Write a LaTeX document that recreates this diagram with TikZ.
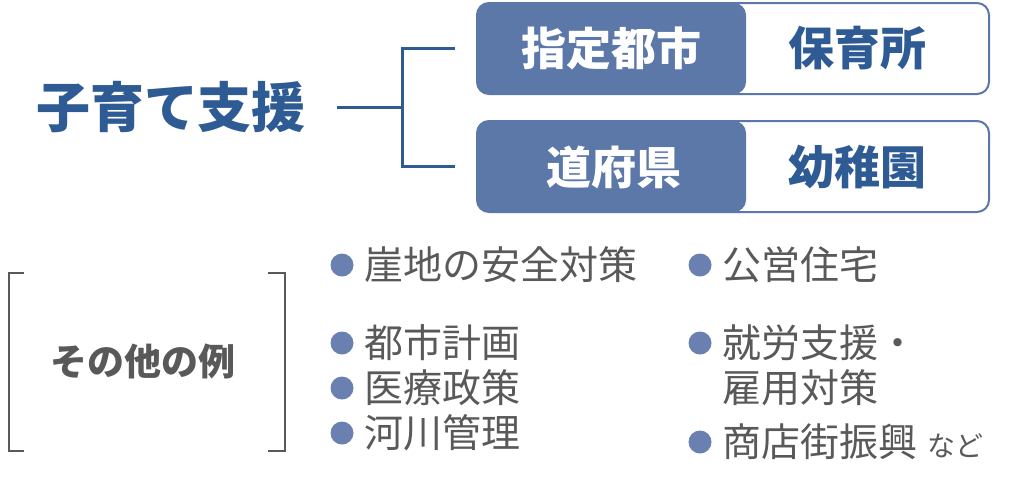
\documentclass[tikz,border=0pt]{standalone}
\usepackage{fontspec}
\setmainfont{Noto Sans CJK JP}
\usetikzlibrary{positioning}
\definecolor{titleblue}{HTML}{2E5B94}
\definecolor{boxblue}{HTML}{5B78A9}
\definecolor{dotblue}{HTML}{6A80B1}
\definecolor{textgray}{HTML}{595959}
\tikzset{
  rowbox/.style={draw=boxblue, line width=2pt, rounded corners=12pt, fill=white,
    minimum width=512pt, minimum height=91pt, inner sep=0pt,
    path picture={\fill[boxblue] (path picture bounding box.south west) rectangle ([xshift=269pt]path picture bounding box.north west);}},
  headtext/.style={text=white, font=\fontsize{45}{54}\selectfont\bfseries, inner sep=0pt},
  bodytext/.style={text=titleblue, font=\fontsize{46}{55}\selectfont\bfseries, inner sep=0pt},
  conn/.style={titleblue, line width=3pt},
  bracket/.style={textgray, line width=2pt},
  dot/.style={circle, fill=dotblue, minimum size=23pt, inner sep=0pt},
  item/.style={text=textgray, font=\fontsize{39}{45}\selectfont, inner sep=0pt, anchor=west}
}
\begin{document}
\begin{tikzpicture}[x=1pt,y=-1pt]
        \useasboundingbox (0,0) rectangle (1010,483);
        % title and the two rows
        \node[text=titleblue, font=\fontsize{54}{64}\selectfont\bfseries, inner sep=0pt] (title) at (171,107) {子育て支援};
        \node[rowbox] (row1) at (733,48.5) {};
        \node[rowbox] (row2) at (733,166.5) {};
        \node[headtext] (city) at (611,48) {指定都市};
        \node[bodytext] (nursery) at (857,48) {保育所};
        \node[headtext] (pref) at (614,167) {道府県};
        \node[bodytext] (kinder) at (857,167) {幼稚園};

        \coordinate (fork) at (402,107);
        \draw[conn] ([xshift=31pt]title.east |- fork) -- (fork);
        \draw[conn] ([xshift=-21pt]row1.west) -| (fork) |- ([xshift=-21pt]row2.west);

        % other examples
        \node[text=textgray, font=\fontsize{37}{44}\selectfont\bfseries, inner sep=0pt] (other) at (143,361) {その他の例};
        \draw[bracket] (24,273) -- (9,273) -- (9,451) -- (24,451);
        \draw[bracket] (268,273) -- (285,273) -- (285,451) -- (268,451);

        \node[dot] (d1) at (342,265) {};
        \node[dot] (d2) at (342,343) {};
        \node[dot] (d3) at (342,388) {};
        \node[dot] (d4) at (342,433) {};
        \node[dot] (d5) at (700,265) {};
        \node[dot] (d6) at (700,343) {};
        \node[dot] (d7) at (700,442) {};

        \node[item, right=11pt of d1] (i1) {崖地の安全対策};
        \node[item, right=11pt of d2] (i2) {都市計画};
        \node[item, right=11pt of d3] (i3) {医療政策};
        \node[item, right=11pt of d4] (i4) {河川管理};
        \node[item, right=11pt of d5] (i5) {公営住宅};
        \node[item, right=11pt of d6] (i6) {就労支援・};
        \node[item] (i6b) at ([yshift=-45pt]i6.west) {雇用対策};
        \node[item, right=11pt of d7] (i7) {商店街振興};
        \node[text=textgray, font=\fontsize{28}{34}\selectfont, inner sep=0pt, anchor=base west] (etc) at ([xshift=9pt]i7.base east) {など};
\end{tikzpicture}
\end{document}
